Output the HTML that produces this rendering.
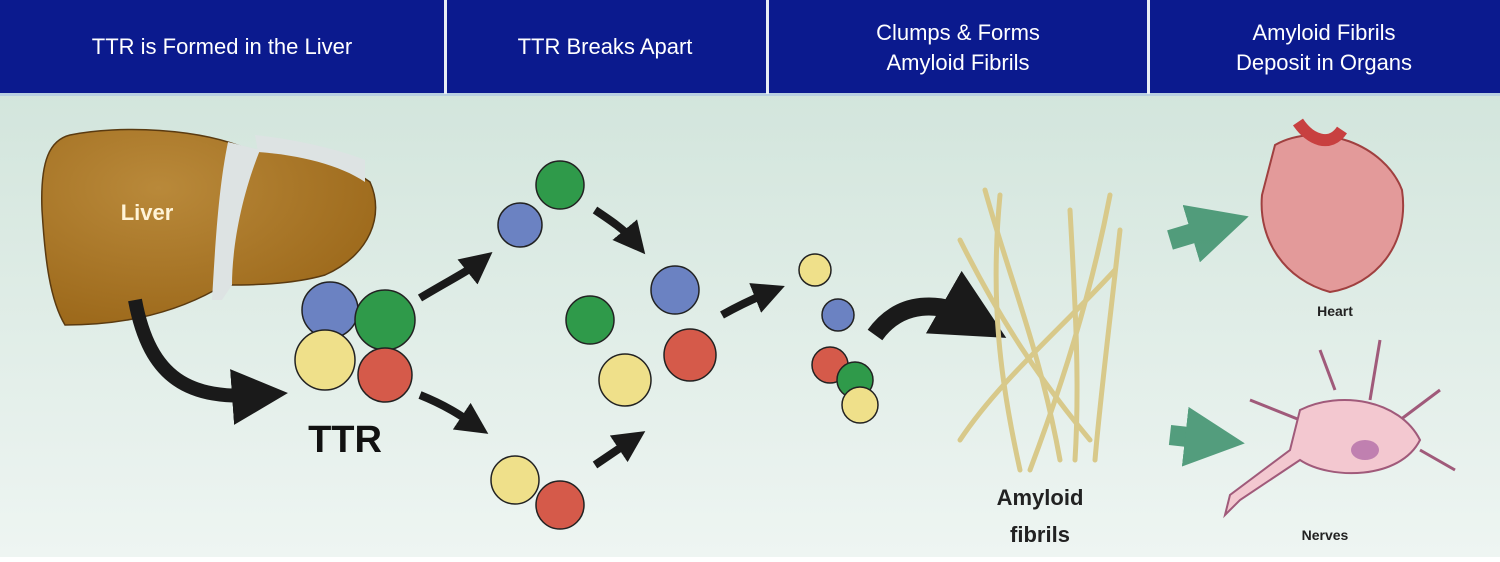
<!DOCTYPE html>
<html><head><meta charset="utf-8"><style>
body{margin:0;width:1500px;height:557px;overflow:hidden;font-family:"Liberation Sans",sans-serif}
</style></head><body>
<svg width="1500" height="557" viewBox="0 0 1500 557" xmlns="http://www.w3.org/2000/svg">
<defs>
<linearGradient id="bg" x1="0" y1="0" x2="0" y2="1"><stop offset="0" stop-color="#cde2d8"/><stop offset="1" stop-color="#eef5f2"/></linearGradient>
<radialGradient id="lv" cx="0.35" cy="0.3" r="0.8"><stop offset="0" stop-color="#b9893a"/><stop offset="1" stop-color="#9a6618"/></radialGradient>
<marker id="ah" markerWidth="4" markerHeight="4" refX="2" refY="2" orient="auto"><path d="M0,0 L4,2 L0,4 z" fill="#1a1a1a"/></marker>
<marker id="gh" markerWidth="3" markerHeight="3" refX="1.5" refY="1.5" orient="auto"><path d="M0,0 L3,1.5 L0,3 z" fill="#3a8f6a"/></marker>
</defs>
<rect width="1500" height="557" fill="url(#bg)"/>
<rect width="1500" height="94" fill="#0b1a8e"/>
<rect x="0" y="93" width="1500" height="3" fill="#b8cfe0"/>
<rect x="444" y="0" width="3" height="94" fill="#e8eef5"/>
<rect x="766" y="0" width="3" height="94" fill="#e8eef5"/>
<rect x="1147" y="0" width="3" height="94" fill="#e8eef5"/>
<g fill="#fff" font-size="22" text-anchor="middle">
<text x="222" y="54">TTR is Formed in the Liver</text>
<text x="605" y="54">TTR Breaks Apart</text>
<text x="958" y="40">Clumps &amp; Forms</text>
<text x="958" y="70">Amyloid Fibrils</text>
<text x="1324" y="40">Amyloid Fibrils</text>
<text x="1324" y="70">Deposit in Organs</text>
</g>
<path d="M70,135 C120,125 200,128 250,150 C300,155 340,160 370,182 C385,215 370,255 325,275 C290,285 250,285 225,285 L215,290 C170,315 120,325 65,325 C50,300 45,260 42,210 C40,160 50,140 70,135 Z" fill="url(#lv)" stroke="#5a3a10" stroke-width="1.5"/>
<path d="M228,142 L260,150 C240,200 232,250 232,285 L222,300 L212,300 C215,250 218,190 228,142 Z" fill="#dde3e3"/>
<path d="M255,135 C300,140 340,150 365,160 L365,182 C340,165 300,155 258,152 Z" fill="#dde3e3"/>
<text x="147" y="220" fill="#fff4d8" font-size="22" font-weight="bold" text-anchor="middle">Liver</text>
<path d="M135,300 C150,380 190,400 260,395" fill="none" stroke="#1a1a1a" stroke-width="14" marker-end="url(#ah)"/>
<g stroke="#222" stroke-width="1.5">
<circle cx="330" cy="310" r="28" fill="#6b82c2"/>
<circle cx="385" cy="320" r="30" fill="#2f9a4a"/>
<circle cx="325" cy="360" r="30" fill="#efe08a"/>
<circle cx="385" cy="375" r="27" fill="#d55a4a"/>
</g>
<text x="345" y="452" font-size="38" font-weight="bold" text-anchor="middle" fill="#111">TTR</text>
<g fill="none" stroke="#1a1a1a" stroke-width="8">
<path d="M420,298 C450,280 470,270 480,262" marker-end="url(#ah)"/>
<path d="M420,395 C445,405 460,415 475,425" marker-end="url(#ah)"/>
<path d="M595,210 C610,220 625,230 635,242" marker-end="url(#ah)"/>
<path d="M595,465 C610,455 620,448 632,440" marker-end="url(#ah)"/>
<path d="M722,315 C740,305 755,298 770,292" marker-end="url(#ah)"/>
</g>
<path d="M875,335 C900,300 940,300 975,320" fill="none" stroke="#1a1a1a" stroke-width="18" marker-end="url(#ah)"/>
<g stroke="#222" stroke-width="1.5">
<circle cx="520" cy="225" r="22" fill="#6b82c2"/><circle cx="560" cy="185" r="24" fill="#2f9a4a"/>
<circle cx="590" cy="320" r="24" fill="#2f9a4a"/><circle cx="675" cy="290" r="24" fill="#6b82c2"/>
<circle cx="625" cy="380" r="26" fill="#efe08a"/><circle cx="690" cy="355" r="26" fill="#d55a4a"/>
<circle cx="515" cy="480" r="24" fill="#efe08a"/><circle cx="560" cy="505" r="24" fill="#d55a4a"/>
<circle cx="815" cy="270" r="16" fill="#efe08a"/><circle cx="838" cy="315" r="16" fill="#6b82c2"/>
<circle cx="830" cy="365" r="18" fill="#d55a4a"/><circle cx="855" cy="380" r="18" fill="#2f9a4a"/><circle cx="860" cy="405" r="18" fill="#efe08a"/>
</g>
<g stroke="#d8c98a" stroke-width="5" fill="none" stroke-linecap="round">
<path d="M985,190 C1010,280 1040,350 1060,460"/><path d="M1000,195 C990,300 1000,380 1020,470"/>
<path d="M1110,195 C1090,300 1060,390 1030,470"/><path d="M1070,210 C1075,300 1080,380 1075,460"/>
<path d="M960,240 C1000,320 1040,380 1090,440"/><path d="M1120,230 C1110,320 1100,400 1095,460"/>
<path d="M960,440 C1000,380 1060,330 1115,270"/>
</g>
<text x="1040" y="505" font-size="22" font-weight="bold" text-anchor="middle" fill="#222">Amyloid</text>
<text x="1040" y="542" font-size="22" font-weight="bold" text-anchor="middle" fill="#222">fibrils</text>
<path d="M1170,240 L1220,225" stroke="#3a8f6a" stroke-width="20" marker-end="url(#gh)" opacity="0.85"/>
<path d="M1170,435 L1215,440" stroke="#3a8f6a" stroke-width="20" marker-end="url(#gh)" opacity="0.85"/>
<path d="M1275,145 C1320,120 1385,145 1402,190 C1410,245 1375,285 1330,292 C1285,280 1258,240 1262,195 Z" fill="#e39a9a" stroke="#a04040" stroke-width="2"/>
<path d="M1298,122 C1310,140 1330,148 1342,130" stroke="#c84040" stroke-width="12" fill="none"/>
<text x="1335" y="316" font-size="14" font-weight="bold" text-anchor="middle" fill="#222">Heart</text>
<g stroke="#a05a7a" stroke-width="3" fill="none">
<path d="M1320,350 L1335,390 M1250,400 L1300,420 M1440,390 L1400,420 M1455,470 L1420,450 M1280,460 L1310,440 M1380,340 L1370,400"/>
</g>
<path d="M1300,410 C1340,390 1400,400 1420,440 C1400,480 1330,480 1300,460 L1240,500 L1225,515 L1230,495 L1290,450 Z" fill="#f3c8d0" stroke="#a05a7a" stroke-width="2"/>
<ellipse cx="1365" cy="450" rx="14" ry="10" fill="#c080b0"/>
<text x="1325" y="540" font-size="14" font-weight="bold" text-anchor="middle" fill="#222">Nerves</text>
</svg>
</body></html>
